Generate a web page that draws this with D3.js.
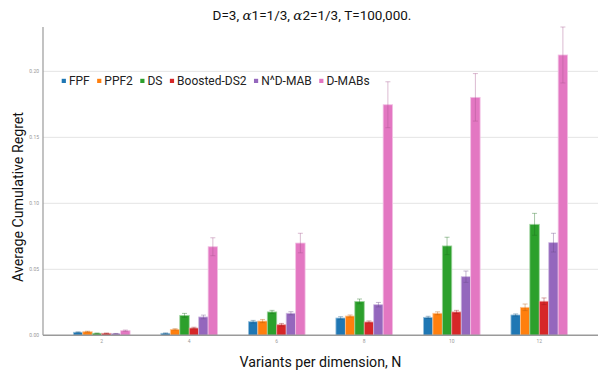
<!DOCTYPE html>
<html>
<head>
<meta charset="utf-8">
<script src="https://cdn.jsdelivr.net/npm/d3@7/dist/d3.min.js"></script>
<style>
  html, body { margin: 0; padding: 0; background: #fff; }
  svg { display: block; font-family: Roboto, "Noto Sans", sans-serif; }
</style>
</head>
<body>
<svg id="chart" width="603" height="373"></svg>
<script>
// Variants per dimension (x categories)
const categories = ["2", "4", "6", "8", "10", "12"];
const seriesNames = ["FPF", "PPF2", "DS", "Boosted-DS2", "N^D-MAB", "D-MABs"];
const colors = ["#1f77b4", "#ff7f0e", "#2ca02c", "#d62728", "#9467bd", "#e377c2"];

// Average cumulative regret per series, one entry per category
const fpf     = [0.0023, 0.0015, 0.0103, 0.0131, 0.0136, 0.0154];
const ppf2    = [0.0027, 0.0045, 0.0108, 0.0146, 0.0167, 0.0212];
const ds      = [0.0015, 0.0151, 0.0177, 0.0257, 0.0677, 0.0841];
const boosted = [0.0015, 0.0055, 0.0080, 0.0101, 0.0177, 0.0258];
const ndmab   = [0.0012, 0.0139, 0.0167, 0.0232, 0.0444, 0.0702];
const dmabs   = [0.0035, 0.0671, 0.0699, 0.1747, 0.1803, 0.2124];

// Half-width of the error bars
const fpfErr     = [0.0003, 0.0003, 0.0010, 0.0010, 0.0008, 0.0008];
const ppf2Err    = [0.0004, 0.0005, 0.0012, 0.0008, 0.0011, 0.0025];
const dsErr      = [0.0002, 0.0015, 0.0012, 0.0018, 0.0066, 0.0083];
const boostedErr = [0.0002, 0.0006, 0.0010, 0.0008, 0.0012, 0.0025];
const ndmabErr   = [0.0002, 0.0014, 0.0012, 0.0017, 0.0043, 0.0071];
const dmabsErr   = [0.0005, 0.0068, 0.0074, 0.0174, 0.0180, 0.0212];

const yTicks = [0, 0.05, 0.10, 0.15, 0.20];

const values = [fpf, ppf2, ds, boosted, ndmab, dmabs];
const errors = [fpfErr, ppf2Err, dsErr, boostedErr, ndmabErr, dmabsErr];

const svg = d3.select("#chart");
const plotLeft = 43, plotRight = 598, plotTop = 27, plotBottom = 335.3;

const x = d3.scaleBand().domain(categories).range([plotLeft, plotRight])
  .paddingInner(0).paddingOuter(0.171);
const groupWidth = 56.7;
const xs = d3.scaleBand().domain(seriesNames)
  .range([-groupWidth / 2, groupWidth / 2]).padding(0);
const y = d3.scaleLinear().domain([0, 0.2336]).range([plotBottom, plotTop]);

// Horizontal gridlines
svg.append("g").selectAll("line").data(yTicks.slice(1)).join("line")
  .attr("x1", plotLeft).attr("x2", plotRight)
  .attr("y1", d => y(d)).attr("y2", d => y(d))
  .attr("stroke", "#e4e4e4").attr("stroke-width", 1);

// Y tick labels
svg.append("g").selectAll("text").data(yTicks).join("text")
  .attr("x", 39).attr("y", d => y(d) + 1.8)
  .attr("text-anchor", "end").attr("font-size", 5).attr("fill", "#999")
  .text(d => d3.format(".2f")(d));

// Bars
const groups = svg.append("g").selectAll("g").data(categories).join("g")
  .attr("transform", d => `translate(${x(d) + x.bandwidth() / 2},0)`);

groups.each(function (cat, ci) {
  const g = d3.select(this);
  const rows = seriesNames.map((s, si) => ({
    s, si, v: values[si][ci], e: errors[si][ci]
  }));
  g.selectAll("rect").data(rows).join("rect")
    .attr("x", d => xs(d.s))
    .attr("width", xs.bandwidth())
    .attr("y", d => y(d.v))
    .attr("height", d => y(0) - y(d.v))
    .attr("fill", d => colors[d.si])
    .attr("stroke", d => d3.interpolateRgb(colors[d.si], "#fff")(0.55))
    .attr("stroke-width", 0.8);

  // Error bars
  const eb = g.selectAll("g.err").data(rows).join("g").attr("class", "err")
    .attr("stroke", d => d3.color(colors[d.si]).darker(0.9))
    .attr("stroke-opacity", 0.4).attr("stroke-width", 1);
  const cx = d => xs(d.s) + xs.bandwidth() / 2;
  eb.append("line")
    .attr("x1", cx).attr("x2", cx)
    .attr("y1", d => y(d.v + d.e)).attr("y2", d => y(Math.max(0, d.v - d.e)));
  eb.append("line")
    .attr("x1", d => cx(d) - 2.5).attr("x2", d => cx(d) + 2.5)
    .attr("y1", d => y(d.v + d.e)).attr("y2", d => y(d.v + d.e));
  eb.append("line")
    .attr("x1", d => cx(d) - 2.5).attr("x2", d => cx(d) + 2.5)
    .attr("y1", d => y(Math.max(0, d.v - d.e))).attr("y2", d => y(Math.max(0, d.v - d.e)));
});

// Axes lines
svg.append("line").attr("x1", plotLeft).attr("x2", plotLeft)
  .attr("y1", plotTop).attr("y2", plotBottom)
  .attr("stroke", "#9a9a9a").attr("stroke-width", 1.2);
svg.append("line").attr("x1", plotLeft).attr("x2", plotRight)
  .attr("y1", plotBottom).attr("y2", plotBottom)
  .attr("stroke", "#9a9a9a").attr("stroke-width", 1.5);

// X tick labels
svg.append("g").selectAll("text").data(categories).join("text")
  .attr("x", d => x(d) + x.bandwidth() / 2).attr("y", 342.5)
  .attr("text-anchor", "middle").attr("font-size", 5).attr("fill", "#999")
  .text(d => d);

// Title
const title = svg.append("text").attr("x", 312).attr("y", 20)
  .attr("text-anchor", "middle").attr("font-size", 13.5).attr("fill", "#111");
title.append("tspan").text("D=3,  ");
title.append("tspan").attr("font-family", "'DejaVu Serif', serif").attr("font-style", "italic").text("\u03B1");
title.append("tspan").text("1=1/3, ");
title.append("tspan").attr("font-family", "'DejaVu Serif', serif").attr("font-style", "italic").text("\u03B1");
title.append("tspan").text("2=1/3, T=100,000.");

// Axis titles
svg.append("text").attr("x", 320.5).attr("y", 366.5)
  .attr("text-anchor", "middle").attr("font-size", 14.2).attr("fill", "#111")
  .text("Variants per dimension, N");
svg.append("text")
  .attr("transform", "translate(23,197) rotate(-90)")
  .attr("text-anchor", "middle").attr("font-size", 14.2).attr("fill", "#111")
  .text("Average Cumulative Regret");

// Legend
const legend = svg.append("g").attr("transform", "translate(61.7,81)");
let lx = 0;
seriesNames.forEach((name, i) => {
  legend.append("rect").attr("x", lx).attr("y", -2.2)
    .attr("width", 4.2).attr("height", 4.2).attr("fill", colors[i]);
  const t = legend.append("text").attr("x", lx + 7.2).attr("y", 4.3)
    .attr("font-size", 12).attr("fill", "#222").text(name);
  lx += 7.2 + t.node().getComputedTextLength() + 7.4;
});
</script>
</body>
</html>
